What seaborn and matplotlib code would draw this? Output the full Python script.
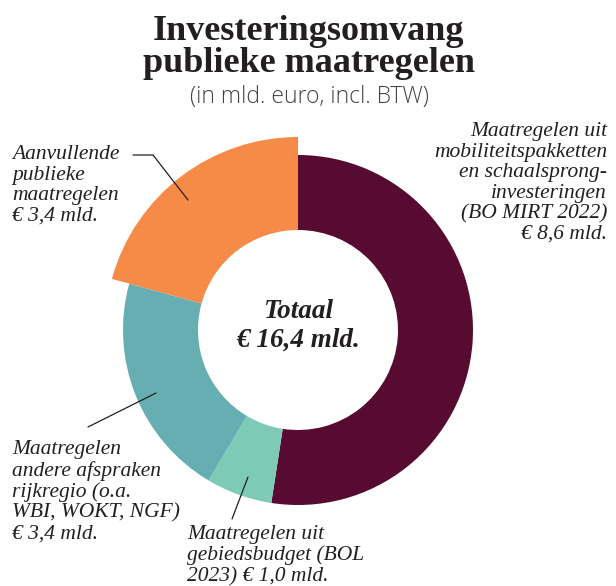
import matplotlib.pyplot as plt
import seaborn as sns

# data, clockwise from 12 o'clock
labels = [
    "Maatregelen uit\nmobiliteitspakketten\nen schaalsprong-\ninvesteringen\n(BO MIRT 2022)",
    "Maatregelen uit\ngebiedsbudget (BOL\n2023)",
    "Maatregelen\nandere afspraken\nrijkregio (o.a.\nWBI, WOKT, NGF)",
    "Aanvullende\npublieke\nmaatregelen",
]
values = [8.6, 1.0, 3.4, 3.4]
palette = ["#570B31", "#7DCBB6", "#67AEB2", "#F68B47"]

W, H = 616, 586
TXT = "#231F20"


def fmt(v):
    return "€ " + f"{v:.1f}".replace(".", ",") + " mld."


def Y(y):
    # picture rows counted from the top
    return H - y


sns.set_theme(style="white")
plt.rcParams['font.family'] = ['Liberation Serif', 'DejaVu Serif']

fig = plt.figure(figsize=(W / 100, H / 100), dpi=100)
ax = fig.add_axes([0, 0, 1, 1])

wedges, _ = ax.pie(values, colors=palette, startangle=90, counterclock=False,
                   radius=175, center=(298, Y(330)),
                   wedgeprops=dict(width=75, linewidth=0))
# the orange wedge sticks out a bit
wedges[3].set_radius(193)
wedges[3].set_width(93)

ax.set_xlim(0, W)
ax.set_ylim(0, H)
ax.set_aspect('equal')
ax.axis('off')

# titles
ax.text(309, Y(31), "Investeringsomvang", ha='center', va='center',
        fontsize=26, fontweight='bold', color=TXT)
ax.text(309, Y(64), "publieke maatregelen", ha='center', va='center',
        fontsize=26, fontweight='bold', color=TXT)
ax.text(309, Y(97), "(in mld. euro, incl. BTW)", ha='center', va='center',
        fontsize=16.5, family='Open Sans', fontweight='light', color='#444444')

# centre
ax.text(298, Y(312), "Totaal", ha='center', va='center', fontsize=19.5,
        fontweight='bold', style='italic', color=TXT)
ax.text(298, Y(340), fmt(sum(values)), ha='center', va='center', fontsize=19.5,
        fontweight='bold', style='italic', color=TXT)

lab = dict(fontsize=15.5, style='italic', color=TXT, linespacing=1.11)

ax.text(607, Y(122), labels[0] + "\n" + fmt(values[0]), ha='right', va='top', **lab)
ax.text(12, Y(145), labels[3] + "\n" + fmt(values[3]), ha='left', va='top', **lab)
ax.text(12, Y(440), labels[2] + "\n" + fmt(values[2]), ha='left', va='top', **lab)
ax.text(187, Y(525), labels[1] + " " + fmt(values[1]), ha='left', va='top', **lab)

# leader lines
line = dict(color=TXT, lw=0.9)
ax.plot([133, 153, 188], [Y(155), Y(155), Y(200)], **line)
ax.plot([156, 88], [Y(393), Y(427)], **line)
ax.plot([248, 232], [Y(477), Y(519)], **line)

plt.savefig('out.png', dpi=100)
